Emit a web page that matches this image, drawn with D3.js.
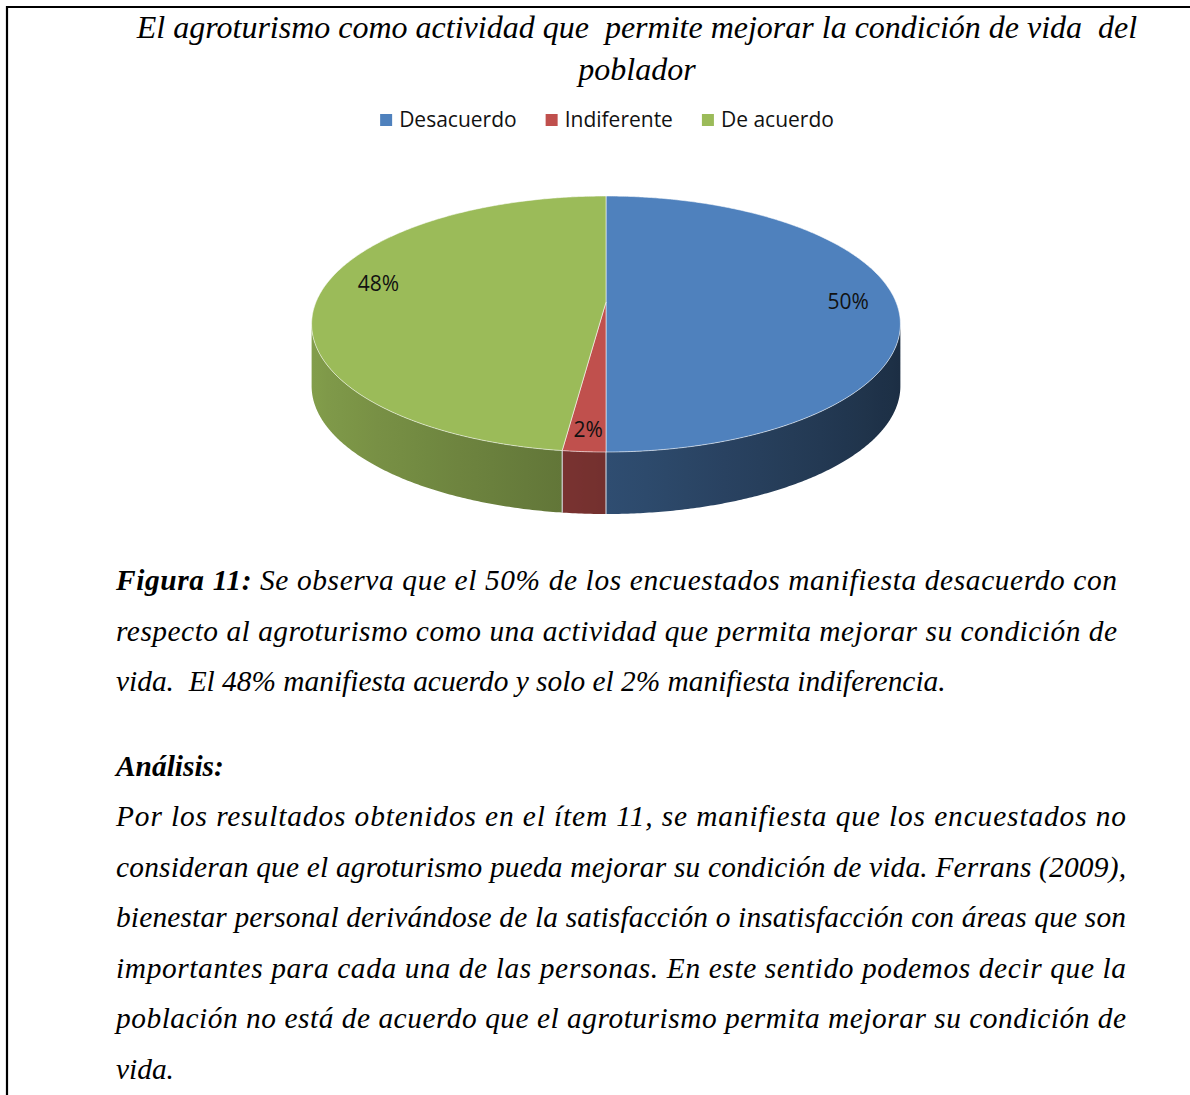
<!DOCTYPE html>
<html>
<head>
<meta charset="utf-8">
<script src="https://cdn.jsdelivr.net/npm/d3@7"></script>
<style>
  body { margin: 0; background: #fff; }
  .serif { font-family: "Liberation Serif", "Times New Roman", serif; font-style: italic; fill: #000; }
  .sans { font-family: "Open Sans", "DejaVu Sans", sans-serif; fill: #111; }
</style>
</head>
<body>
<div id="chart"></div>
<script>
// chart data
const categories = ["Desacuerdo", "Indiferente", "De acuerdo"];
const values = [50, 2, 48];
const pctLabels = ["50%", "2%", "48%"];
const colors = ["#4f81bd", "#c0504d", "#9bbb59"];

const titleLines = [
  "El agroturismo como actividad que  permite mejorar la condición de vida  del",
  "poblador"
];

// [bold part, normal part, justified?]
const figLines = [
  ["Figura 11:", " Se observa que el 50% de los encuestados manifiesta desacuerdo con", true],
  ["", "respecto al agroturismo como una actividad que permita mejorar su condición de", true],
  ["", "vida.  El 48% manifiesta acuerdo y solo el 2% manifiesta indiferencia.", false]
];
const analisisHead = "Análisis:";
const analisisLines = [
  ["Por los resultados obtenidos en el ítem 11, se manifiesta que los encuestados no", true],
  ["consideran que el agroturismo pueda mejorar su condición de vida. Ferrans (2009),", true],
  ["bienestar personal derivándose de la satisfacción o insatisfacción con áreas que son", true],
  ["importantes para cada una de las personas. En este sentido podemos decir que la", true],
  ["población no está de acuerdo que el agroturismo permita mejorar su condición de", true],
  ["vida.", false]
];

const width = 1190, height = 1095;

const svg = d3.select("#chart").append("svg")
  .attr("width", width)
  .attr("height", height);

svg.append("rect").attr("width", width).attr("height", height).attr("fill", "#fff");
const defs = svg.append("defs");

// page frame (top + left rule)
svg.append("line").attr("x1", 7).attr("x2", width).attr("y1", 7).attr("y2", 7)
  .attr("stroke", "#000").attr("stroke-width", 2.2);
svg.append("line").attr("x1", 7).attr("x2", 7).attr("y1", 6).attr("y2", height)
  .attr("stroke", "#000").attr("stroke-width", 2.2);

/** TITLE */
svg.append("g").selectAll("text")
  .data(titleLines)
  .join("text")
  .attr("class", "serif")
  .attr("x", 637)
  .attr("y", (d, i) => 38 + i * 42)
  .attr("text-anchor", "middle")
  .attr("font-size", 32)
  .style("white-space", "pre")
  .text(d => d);

/** LEGEND */
const legend = svg.append("g").attr("class", "legend");
const items = legend.selectAll("g").data(categories).join("g");
items.append("rect")
  .attr("width", 12).attr("height", 12)
  .attr("y", 114)
  .attr("fill", (d, i) => colors[i]);
items.append("text")
  .attr("class", "sans")
  .attr("font-size", 21)
  .attr("x", 19)
  .attr("y", 127)
  .text(d => d);
// lay items out horizontally, centered on the pie
let lx = 0;
const pos = [];
items.each(function () {
  const w = d3.select(this).select("text").node().getComputedTextLength();
  pos.push(lx);
  lx += 19 + w + 29;
});
const legendW = lx - 29;
items.attr("transform", (d, i) => `translate(${607 - legendW / 2 + pos[i]},0)`);

/** PIE (3D with perspective) */
const cx = 606, cy = 302, A = 290, B = 124.2, k = 0.172, depth = 62;
const project = (theta, r = 1, drop = 0) => {
  const u = r * Math.sin(theta), v = -r * Math.cos(theta);
  const dd = 1 - k * v;
  return [cx + (A * u) / dd, cy + (B * v) / dd + drop];
};

const pie = d3.pie().sort(null).value(d => d)
  .startAngle(0).endAngle(2 * Math.PI);
const arcs = pie(values);

const step = Math.PI / 360;
const line = d3.line();
// rim is visible between the two silhouette points
const visLo = Math.acos(-k), visHi = 2 * Math.PI - Math.acos(-k);
const shade = t => 0.6 + 0.25 * Math.sin(t - Math.PI);

const wallG = svg.append("g").attr("class", "walls");
arcs.forEach((a, i) => {
  const a0 = Math.max(a.startAngle, visLo), a1 = Math.min(a.endAngle, visHi);
  if (a1 <= a0) return;
  const ts = d3.range(a0, a1, step).concat([a1]);
  const topPts = ts.map(t => project(t));
  const botPts = ts.map(t => project(t, 1, depth)).reverse();
  const xs = topPts.map(p => p[0]);
  const xmin = d3.min(xs), xmax = d3.max(xs);
  const base = d3.rgb(colors[i]);
  const grad = defs.append("linearGradient")
    .attr("id", "wall" + i)
    .attr("gradientUnits", "userSpaceOnUse")
    .attr("x1", xmin).attr("x2", xmax).attr("y1", 0).attr("y2", 0);
  const n = 12;
  const samples = d3.range(n + 1).map(j => a0 + (a1 - a0) * j / n)
    .map(t => ({ x: project(t)[0], f: shade(t) }))
    .sort((p, q) => p.x - q.x);
  grad.selectAll("stop").data(samples).join("stop")
    .attr("offset", d => xmax > xmin ? (d.x - xmin) / (xmax - xmin) : 0)
    .attr("stop-color", d => d3.rgb(base.r * d.f, base.g * d.f, base.b * d.f).formatHex());
  wallG.append("path")
    .attr("d", line(topPts.concat(botPts)) + "Z")
    .attr("fill", `url(#wall${i})`);
});

// light seams on the rim where slices meet
svg.append("g").selectAll("line")
  .data(arcs.filter(a => a.startAngle > visLo && a.startAngle < visHi))
  .join("line")
  .attr("x1", d => project(d.startAngle)[0])
  .attr("y1", d => project(d.startAngle)[1])
  .attr("x2", d => project(d.startAngle, 1, depth)[0])
  .attr("y2", d => project(d.startAngle, 1, depth)[1])
  .attr("stroke", "#dfe6ef")
  .attr("stroke-width", 1);

// top faces
const topPath = a => {
  const pts = [[cx, cy]];
  for (let t = a.startAngle; t < a.endAngle; t += step) pts.push(project(t));
  pts.push(project(a.endAngle));
  return line(pts) + "Z";
};
svg.append("g").attr("class", "tops")
  .selectAll("path")
  .data(arcs)
  .join("path")
  .attr("d", topPath)
  .attr("fill", (d, i) => colors[i])
  .attr("stroke", "#ffffff")
  .attr("stroke-opacity", 0.55)
  .attr("stroke-width", 1);

// data labels (small nudges, as Excel places them)
const labelNudge = { "De acuerdo": [12, -12], "Indiferente": [0, 7] };
svg.append("g").selectAll("text")
  .data(arcs)
  .join("text")
  .attr("class", "sans")
  .attr("font-size", 21)
  .attr("text-anchor", "middle")
  .attr("x", (d, i) => project((d.startAngle + d.endAngle) / 2, 0.835)[0] + (labelNudge[categories[i]] || [0, 0])[0])
  .attr("y", (d, i) => project((d.startAngle + d.endAngle) / 2, 0.835)[1] + 7 + (labelNudge[categories[i]] || [0, 0])[1])
  .text((d, i) => pctLabels[i]);

/** BODY TEXT */
const left = 116, fs = 29.4;
const body = svg.append("g").attr("class", "body");

const fig = body.selectAll("text.fig")
  .data(figLines)
  .join("text")
  .attr("class", "serif fig")
  .attr("x", left)
  .attr("y", (d, i) => 590 + i * 50.5)
  .attr("font-size", fs)
  .style("white-space", "pre");
fig.each(function (d) {
  const t = d3.select(this);
  if (d[0]) t.append("tspan").attr("font-weight", "bold").text(d[0]);
  t.append("tspan").text(d[1]);
  if (d[2]) t.attr("textLength", 1117 - left).attr("lengthAdjust", "spacing");
});

body.append("text")
  .attr("class", "serif")
  .attr("x", left)
  .attr("y", 776)
  .attr("font-size", fs)
  .attr("font-weight", "bold")
  .text(analisisHead);

body.selectAll("text.an")
  .data(analisisLines)
  .join("text")
  .attr("class", "serif an")
  .attr("x", left)
  .attr("y", (d, i) => 826 + i * 50.6)
  .attr("font-size", fs)
  .style("white-space", "pre")
  .text(d => d[0])
  .each(function (d) {
    if (d[1]) d3.select(this).attr("textLength", 1126 - left).attr("lengthAdjust", "spacing");
  });
</script>
</body>
</html>
